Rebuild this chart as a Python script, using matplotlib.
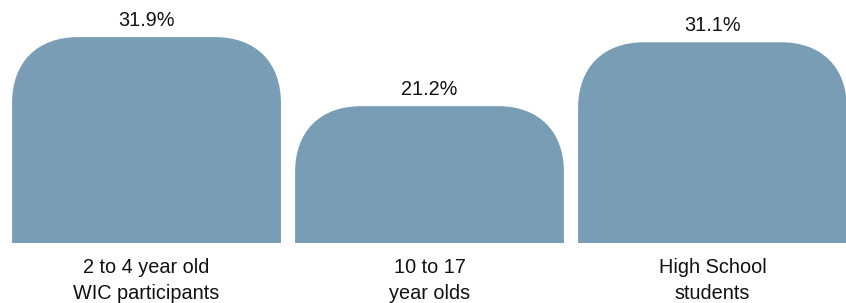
import matplotlib
matplotlib.use('Agg')
import matplotlib.pyplot as plt
from matplotlib.path import Path
from matplotlib.patches import PathPatch

# ── Data ────────────────────────────────────────────────────────────────
categories = ['2 to 4 year old\nWIC participants', '10 to 17\nyear olds', 'High School\nstudents']
values = [31.9, 21.2, 31.1]
value_labels = ['31.9%', '21.2%', '31.1%']

BAR_COLOR = '#799DB5'
plt.rcParams['font.family'] = ['Liberation Sans', 'DejaVu Sans']

fig = plt.figure(figsize=(8.46, 3.03), dpi=100)
# axes fills full width; bottom at bar baseline
ax = fig.add_axes([0, 60 / 303, 1, 243 / 303])
ax.set_xlim(-0.5177, 2.4717)
ax.set_ylim(0, 37.65)
ax.axis('off')

bars = ax.bar(range(len(values)), values, width=0.95, color=BAR_COLOR)

# rounded top corners (radius given in pixels, converted to data units)
px_x = 283.0          # pixels per x unit
px_y = 243 / 37.65    # pixels per y unit
rx = 66 / px_x
ry = 66 / px_y
k = 0.62
for rect in bars:
    rect.set_visible(False)
    x0, w, h = rect.get_x(), rect.get_width(), rect.get_height()
    x1 = x0 + w
    verts = [
        (x0, 0), (x0, h - ry),
        (x0, h - ry * (1 - k)), (x0 + rx * (1 - k), h), (x0 + rx, h),
        (x1 - rx, h),
        (x1 - rx * (1 - k), h), (x1, h - ry * (1 - k)), (x1, h - ry),
        (x1, 0), (x0, 0),
    ]
    codes = [Path.MOVETO, Path.LINETO,
             Path.CURVE4, Path.CURVE4, Path.CURVE4,
             Path.LINETO,
             Path.CURVE4, Path.CURVE4, Path.CURVE4,
             Path.LINETO, Path.CLOSEPOLY]
    ax.add_patch(PathPatch(Path(verts, codes), facecolor=BAR_COLOR,
                           edgecolor='none', clip_on=False))

for i, (v, lab) in enumerate(zip(values, value_labels)):
    ax.annotate(lab, xy=(i, v), xytext=(0, 5), textcoords='offset points',
                ha='center', va='bottom', fontsize=14.3, color='#111111')

for i, cat in enumerate(categories):
    ax.annotate(cat, xy=(i, 0), xytext=(0, -10.5), textcoords='offset points',
                ha='center', va='top', fontsize=14.3, color='#111111',
                linespacing=1.5, annotation_clip=False)

fig.savefig('out.png', dpi=100)
